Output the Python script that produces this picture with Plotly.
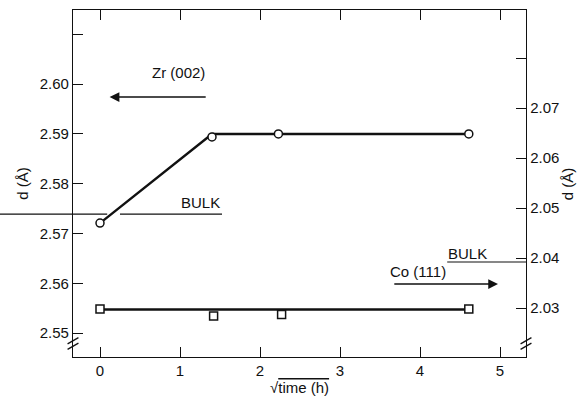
import plotly.graph_objects as go

# ---- data ----
zr_t = [0.0, 1.40, 2.23, 4.61]
zr_d = [2.5721, 2.5894, 2.5900, 2.5900]
zr_fit_t = [0.0, 1.40, 4.61]
zr_fit_d = [2.5721, 2.5900, 2.5900]
zr_bulk = 2.5739

co_t = [0.0, 1.42, 2.27, 4.61]
co_d = [2.0298, 2.0284, 2.0287, 2.0298]
co_fit_t = [0.0, 4.61]
co_fit_d = [2.0297, 2.0297]
co_bulk = 2.0392

x_ticks = [0, 1, 2, 3, 4, 5]
left_ticks = [2.55, 2.56, 2.57, 2.58, 2.59, 2.60, 2.61]
left_labels = ["2.55", "2.56", "2.57", "2.58", "2.59", "2.60", ""]
right_ticks = [2.03, 2.04, 2.05, 2.06, 2.07, 2.08]
right_labels = ["2.03", "2.04", "2.05", "2.06", "2.07", ""]

XR = [-0.3375, 5.325]
YL = [2.5452, 2.6149]
YR = [2.0202, 2.0896]

FONT = "Liberation Sans"
BLACK = "#111111"
FS = 15

fig = go.Figure()

# bulk reference lines
fig.add_trace(go.Scatter(x=[XR[0], 0.09, None, 0.25, 1.525],
                         y=[zr_bulk, zr_bulk, None, zr_bulk, zr_bulk],
                         mode="lines", line=dict(color=BLACK, width=1.2),
                         hoverinfo="skip", showlegend=False))
fig.add_trace(go.Scatter(x=[4.34, XR[1]], y=[co_bulk, co_bulk], yaxis="y2",
                         mode="lines", line=dict(color=BLACK, width=1.2),
                         hoverinfo="skip", showlegend=False))

# fitted lines
fig.add_trace(go.Scatter(x=zr_fit_t, y=zr_fit_d, mode="lines",
                         line=dict(color=BLACK, width=2.4), showlegend=False))
fig.add_trace(go.Scatter(x=co_fit_t, y=co_fit_d, yaxis="y2", mode="lines",
                         line=dict(color=BLACK, width=2.4), showlegend=False))

# data markers
fig.add_trace(go.Scatter(x=zr_t, y=zr_d, mode="markers",
                         marker=dict(symbol="circle", size=8, color="white",
                                     line=dict(color=BLACK, width=1.5)),
                         showlegend=False))
fig.add_trace(go.Scatter(x=co_t, y=co_d, yaxis="y2", mode="markers",
                         marker=dict(symbol="square", size=8, color="white",
                                     line=dict(color=BLACK, width=1.5)),
                         showlegend=False))

tfont = dict(size=FS, family=FONT, color=BLACK)
annotations = [
    dict(x=0.98, y=2.6024, xref="x", yref="y", text="Zr (002)", showarrow=False,
         font=tfont),
    dict(x=0.12, y=2.5974, ax=1.34, ay=2.5974, xref="x", yref="y", axref="x", ayref="y",
         text="", showarrow=True, arrowhead=2, arrowsize=1.3, arrowwidth=1.5,
         arrowcolor=BLACK),
    dict(x=1.25, y=2.5762, xref="x", yref="y", text="BULK", showarrow=False,
         font=tfont),
    dict(x=3.97, y=2.0373, xref="x", yref="y2", text="Co (111)", showarrow=False,
         font=tfont),
    dict(x=4.975, y=2.0348, ax=3.66, ay=2.0348, xref="x", yref="y2", axref="x", ayref="y2",
         text="", showarrow=True, arrowhead=2, arrowsize=1.3, arrowwidth=1.5,
         arrowcolor=BLACK),
    dict(x=4.59, y=2.0410, xref="x", yref="y2", text="BULK", showarrow=False,
         font=tfont),
    # axis titles
    dict(x=-0.112, y=0.50, xref="paper", yref="paper", text="d (Å)", textangle=-90,
         xanchor="center", yanchor="middle", showarrow=False, font=tfont),
    dict(x=1.092, y=0.50, xref="paper", yref="paper", text="d (Å)", textangle=-90,
         xanchor="center", yanchor="middle", showarrow=False, font=tfont),
    dict(x=0.50, y=-0.089, xref="paper", yref="paper",
         text="√<span style='text-decoration:overline'>time (h)</span>",
         xanchor="center", yanchor="middle", showarrow=False, font=tfont),
]

# axis break marks (paper coordinates)
shapes = []
for px in (0.0, 1.0):
    for dy in (0.0, 0.016):
        shapes.append(dict(type="line", xref="paper", yref="paper",
                           x0=px - 0.012, y0=0.022 + dy, x1=px + 0.012, y1=0.040 + dy,
                           line=dict(color=BLACK, width=1.3)))
# Zr bulk line continues out into the left margin
shapes.append(dict(type="line", xref="paper", yref="y", x0=-0.17, x1=0.0,
                   y0=zr_bulk, y1=zr_bulk, line=dict(color=BLACK, width=1.2)))

axis_common = dict(showgrid=False, zeroline=False, showline=True, linecolor=BLACK,
                   linewidth=1.3, ticks="inside", ticklen=10, tickcolor=BLACK,
                   tickwidth=1.2, automargin=False,
                   tickfont=dict(size=FS, family=FONT, color=BLACK))

fig.update_layout(
    width=586, height=398,
    margin=dict(l=73, r=60, t=10, b=41),
    paper_bgcolor="white", plot_bgcolor="white",
    xaxis=dict(range=XR, tickvals=x_ticks, mirror="ticks", **axis_common),
    yaxis=dict(range=YL, tickvals=left_ticks, ticktext=left_labels, **axis_common),
    yaxis2=dict(range=YR, tickvals=right_ticks, ticktext=right_labels,
                overlaying="y", side="right", **axis_common),
    annotations=annotations,
    shapes=shapes,
    showlegend=False,
)

fig.write_html("out.html")
